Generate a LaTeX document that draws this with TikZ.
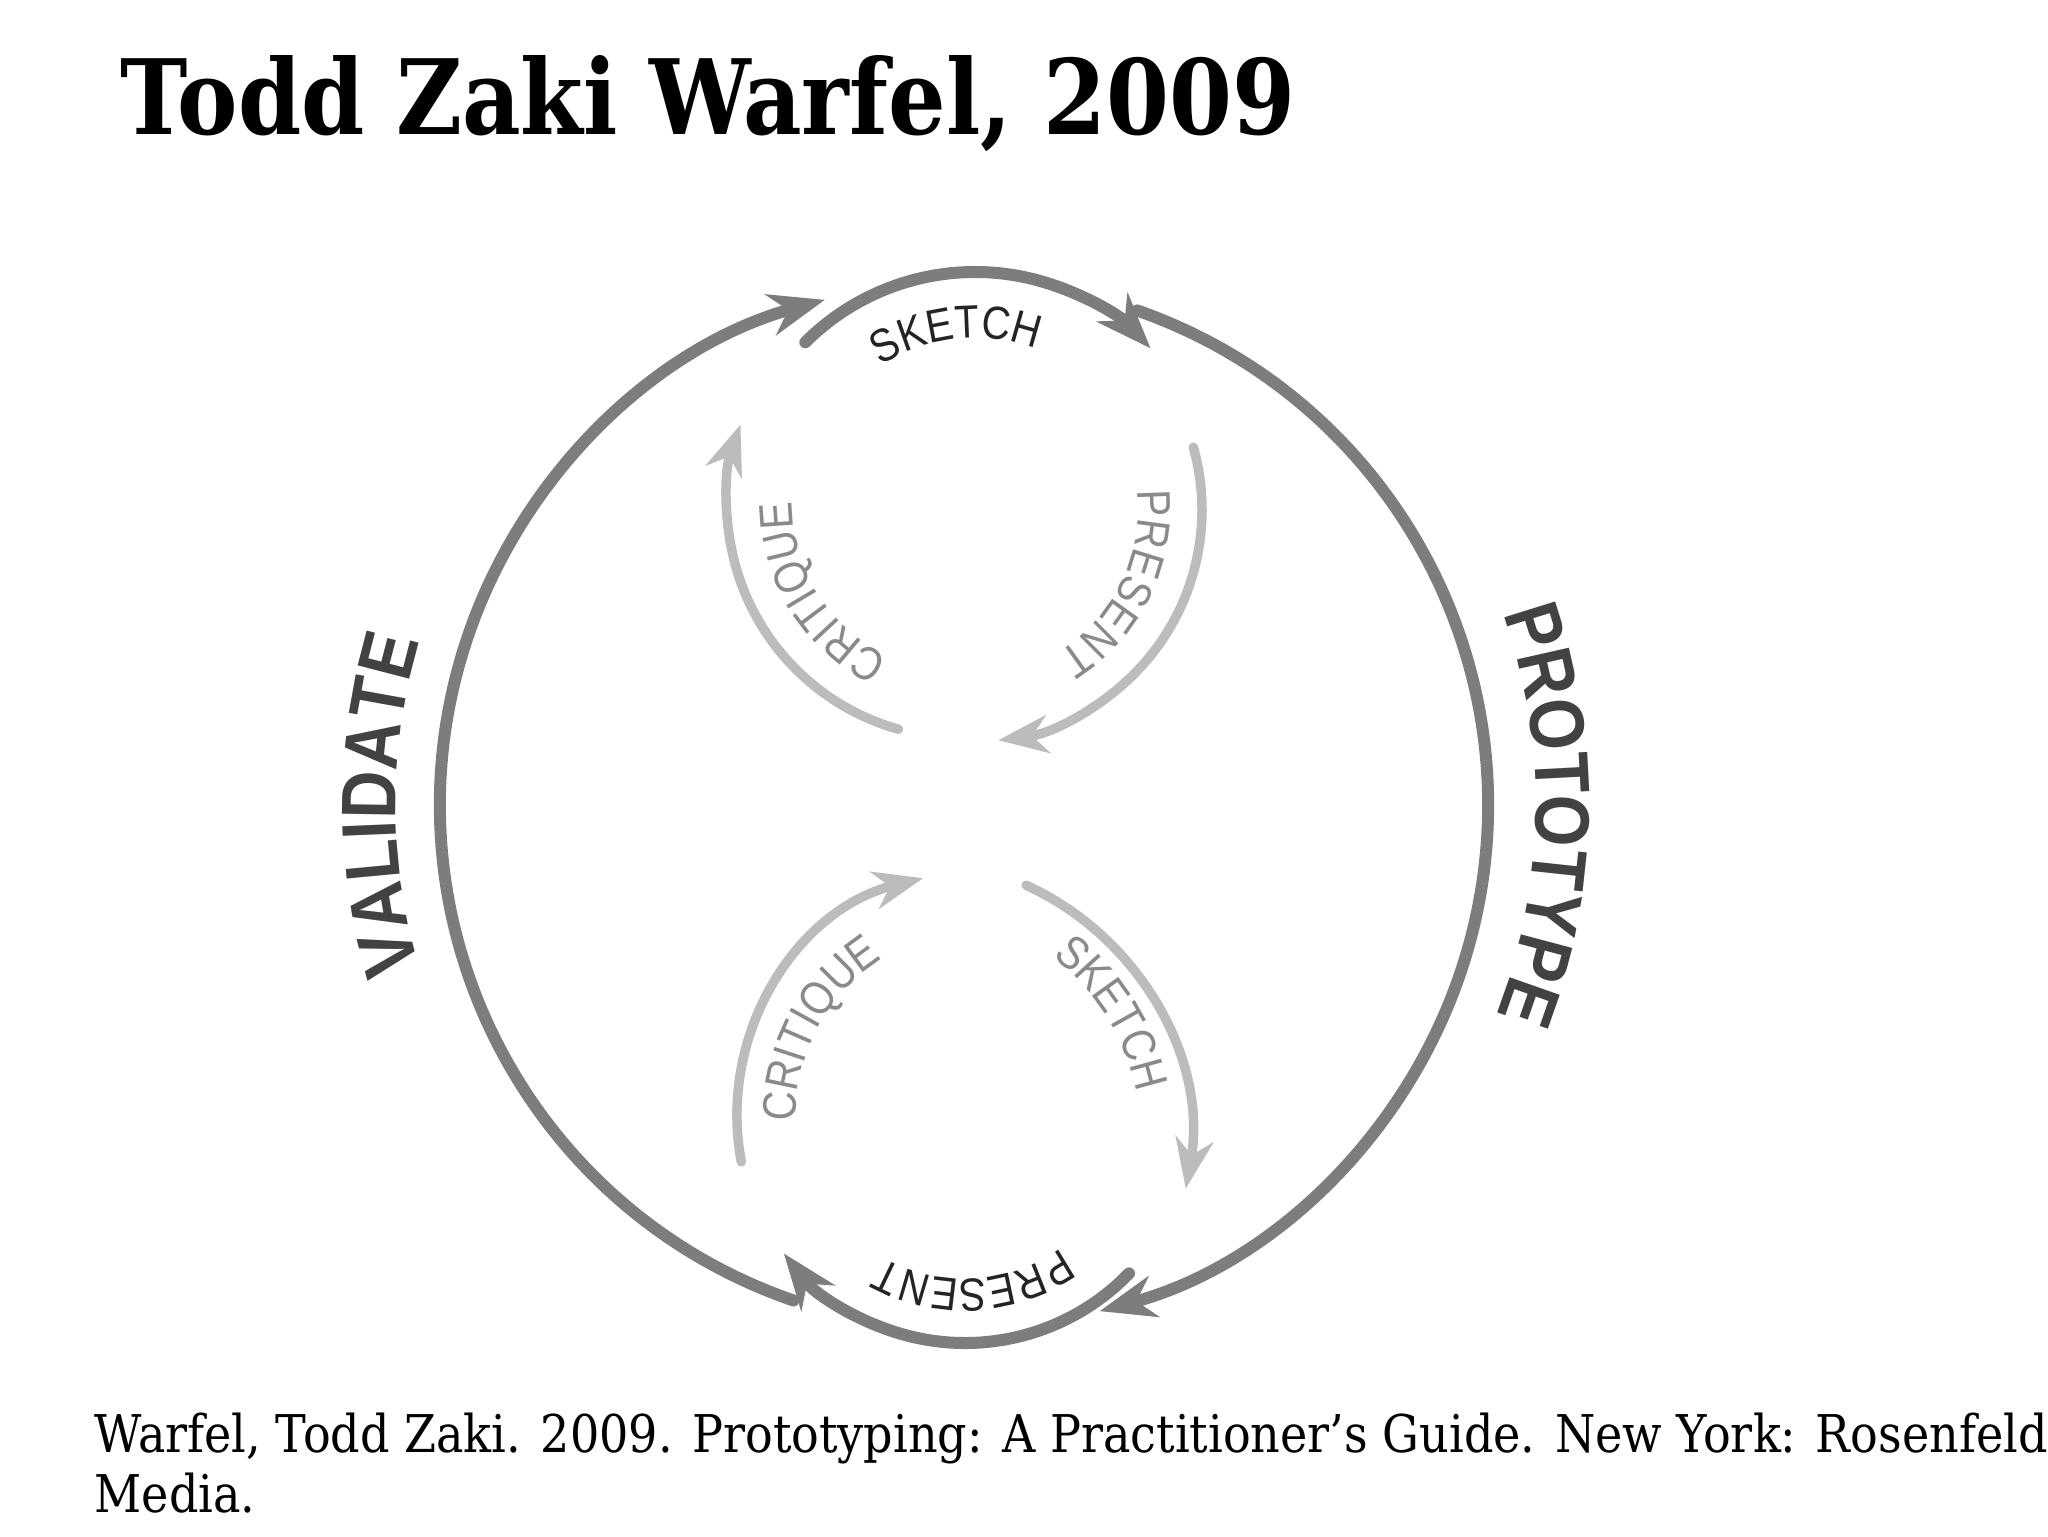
\documentclass[tikz,border=0pt]{standalone}
\usepackage{fontspec}
\setmainfont{DejaVu Serif}
\newfontfamily\labelfont[FakeStretch=0.86]{Liberation Sans}
\usepackage{xcolor}
\usetikzlibrary{arrows.meta}
\usetikzlibrary{decorations.text}
\definecolor{ringgray}{RGB}{125,125,125}
\definecolor{loopgray}{RGB}{188,188,188}
\definecolor{labeldark}{RGB}{36,36,36}
\definecolor{phasegray}{RGB}{66,66,66}
\definecolor{looptext}{RGB}{138,138,138}
\tikzset{%
  ringarc/.style={draw=ringgray,line width=1.2mm,line cap=round,-{Stealth[length=5.6mm,width=4.2mm,inset=1.8mm]}},
  looparc/.style={draw=loopgray,line width=0.95mm,line cap=round,-{Stealth[length=5mm,width=3.8mm,inset=1.6mm]}},
  arclabel/.style={decorate,decoration={text along path,text align=center,text={#1}}}
}
\newcommand\phasefont{\labelfont\bfseries\fontsize{22pt}{23pt}\selectfont\color{phasegray}}
\newcommand\stepfont{\labelfont\fontsize{13.2pt}{14pt}\selectfont\color{labeldark}}
\newcommand\loopfont{\labelfont\fontsize{13.4pt}{14pt}\selectfont\color{looptext}}
\begin{document}
\begin{tikzpicture}[x=0.1mm,y=0.1mm]
    \fill[white] (0,0) rectangle (2048,1536);
    \useasboundingbox (0,0) rectangle (2048,1536);
    \node[anchor=base west,inner sep=0pt] (title) at (120,1401) {\scalebox{0.87}[1]{\bfseries\fontsize{29.6pt}{32pt}\selectfont Todd Zaki Warfel, 2009}};
    \coordinate (ring) at (964,731);
    \coordinate (topc) at (975,1024);
    \coordinate (botc) at (965,421);
    \coordinate (ulc) at (962,1033);
    \coordinate (urc) at (970,1026);
    \coordinate (llc) at (982,420);
    \coordinate (lrc) at (910,396);
    % outer cycle
    \draw[ringarc] ([shift={(251:524)}]ring) arc[start angle=251,end angle=105.4,radius=524];
    \draw[ringarc] ([shift={(70.7:524)}]ring) arc[start angle=70.7,end angle=-75,radius=524];
    \draw[ringarc] ([shift={(135:240)}]topc) arc[start angle=135,end angle=43,radius=240];
    \draw[ringarc] ([shift={(-44:228)}]botc) arc[start angle=-44,end angle=-142.6,radius=228];
    % inner loops
    \draw[looparc] ([shift={(254.3:235)}]ulc) arc[start angle=254.3,end angle=160.5,radius=235];
    \draw[looparc] ([shift={(15.7:232)}]urc) arc[start angle=15.7,end angle=-83,radius=232];
    \draw[looparc] ([shift={(190.8:245)}]llc) arc[start angle=190.8,end angle=103.9,radius=245];
    \draw[looparc] ([shift={(65.5:280)}]lrc) arc[start angle=65.5,end angle=-10,radius=280];
    % labels
    \path[arclabel={|\stepfont|SKETCH}] ([shift={(136:174)}]topc) arc[start angle=136,end angle=56,radius=174];
    \path[arclabel={|\stepfont|PRESENT}] ([shift={(-40:164)}]botc) arc[start angle=-40,end angle=-134,radius=164];
    \path[arclabel={|\phasefont|VALIDATE}] ([shift={(205:568)}]ring) arc[start angle=205,end angle=155,radius=568];
    \path[arclabel={|\phasefont|PROTOTYPE}] ([shift={(28:572)}]ring) arc[start angle=28,end angle=-30,radius=572];
    \path[arclabel={|\loopfont|CRITIQUE}] ([shift={(252:170)}]ulc) arc[start angle=252,end angle=172,radius=170];
    \path[arclabel={|\loopfont|PRESENT}] ([shift={(14:168)}]urc) arc[start angle=14,end angle=-66,radius=168];
    \path[arclabel={|\loopfont|CRITIQUE}] ([shift={(192:186)}]llc) arc[start angle=192,end angle=112,radius=186];
    \path[arclabel={|\loopfont|SKETCH}] ([shift={(67:232)}]lrc) arc[start angle=67,end angle=-3,radius=232];
    % reference
    \node[anchor=base west,inner sep=0pt] (cite) at (94,84) {\scalebox{0.886}[1]{\fontsize{14.8pt}{16pt}\selectfont Warfel, Todd Zaki. 2009. Prototyping: A Practitioner’s Guide. New York: Rosenfeld}};
    \node[anchor=base west,inner sep=0pt] (cite2) at (94,24) {\scalebox{0.886}[1]{\fontsize{14.8pt}{16pt}\selectfont Media.}};
\end{tikzpicture}
\end{document}
